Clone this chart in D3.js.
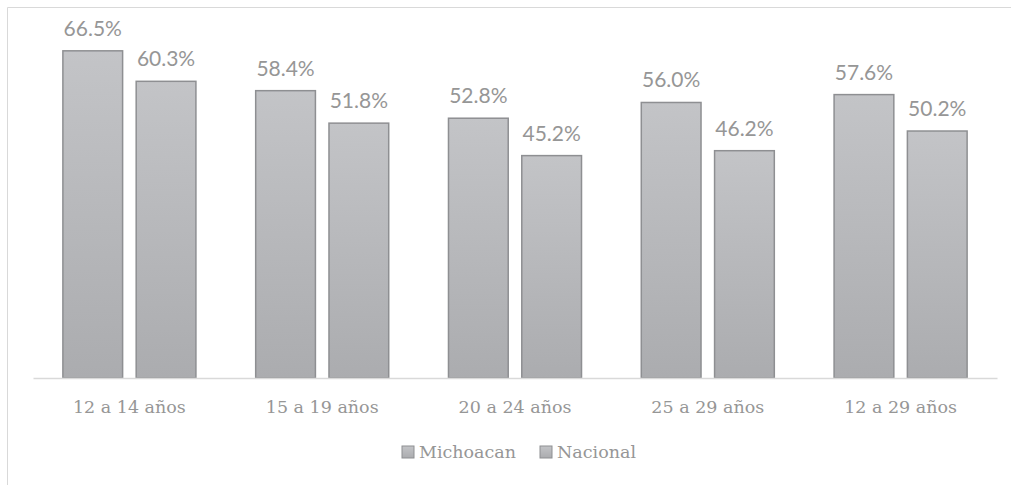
<!DOCTYPE html>
<meta charset="utf-8">
<style>
  body { margin: 0; background: #fff; }
</style>
<svg width="1011" height="485"></svg>
<script src="https://d3js.org/d3.v7.min.js"></script>
<script>

var categories = ["12 a 14 años", "15 a 19 años", "20 a 24 años", "25 a 29 años", "12 a 29 años"];
var series = ["Michoacan", "Nacional"];
var michoacan = [66.5, 58.4, 52.8, 56.0, 57.6];
var nacional = [60.3, 51.8, 45.2, 46.2, 50.2];

var rows = categories.map(function(c, i) {
  return {cat: c, values: [michoacan[i], nacional[i]]};
});

var svg = d3.select("svg");

// chart frame (only top and left edges are visible in the crop)
svg.append("path")
    .attr("d", "M7.5,485V7.5H1011")
    .attr("fill", "none")
    .attr("stroke", "#d9d9d9");

var defs = svg.append("defs");
var grad = defs.append("linearGradient")
    .attr("id", "barfill")
    .attr("x1", 0).attr("y1", 0).attr("x2", 0).attr("y2", 1);
grad.append("stop").attr("offset", "0%").attr("stop-color", "#c3c4c7");
grad.append("stop").attr("offset", "100%").attr("stop-color", "#abacaf");

var x0 = d3.scaleBand()
    .domain(categories)
    .range([33, 997]);

var x1 = d3.scaleBand()
    .domain(series)
    .range([x0.bandwidth() * 0.155, x0.bandwidth() * 0.845])
    .paddingInner(0.185);

var y = d3.scaleLinear()
    .domain([0, 70])
    .range([378, 33.6]);

var group = svg.append("g")
  .selectAll("g")
  .data(rows)
  .enter().append("g")
    .attr("transform", function(d) { return "translate(" + x0(d.cat) + ",0)"; });

var bar = group.selectAll("g")
  .data(function(d) { return d.values.map(function(v, i) { return {s: series[i], v: v}; }); })
  .enter().append("g");

bar.append("rect")
    .attr("x", function(d) { return x1(d.s); })
    .attr("y", function(d) { return y(d.v); })
    .attr("width", x1.bandwidth())
    .attr("height", function(d) { return y(0) - y(d.v); })
    .attr("fill", "url(#barfill)")
    .attr("stroke", "#8e8f92")
    .attr("stroke-width", 1.5);

bar.append("text")
    .attr("x", function(d) { return x1(d.s) + x1.bandwidth() / 2; })
    .attr("y", function(d) { return y(d.v) - 15; })
    .attr("text-anchor", "middle")
    .attr("font-family", "Lato, 'Noto Sans', sans-serif")
    .attr("font-size", 21)
    .attr("fill", "#969696")
    .text(function(d) { return d.v.toFixed(1) + "%"; });

// category axis
var axis = svg.append("g")
    .attr("transform", "translate(0," + y(0) + ")")
    .call(d3.axisBottom(x0).tickSize(0).tickPadding(23));

axis.select(".domain").attr("stroke", "#d9d9d9").attr("stroke-width", 1.5);
axis.selectAll("text")
    .attr("font-family", "'DejaVu Serif', serif")
    .attr("font-size", 17.5)
    .attr("fill", "#969696");

// legend
var legendX = [402, 540];
var legend = svg.append("g")
  .selectAll("g")
  .data(series)
  .enter().append("g")
    .attr("transform", function(d, i) { return "translate(" + legendX[i] + ",446)"; });

legend.append("rect")
    .attr("width", 12)
    .attr("height", 12)
    .attr("fill", "url(#barfill)")
    .attr("stroke", "#8e8f92");

legend.append("text")
    .attr("x", 17)
    .attr("y", 12)
    .attr("font-family", "'DejaVu Serif', serif")
    .attr("font-size", 17.5)
    .attr("fill", "#969696")
    .text(function(d) { return d; });

</script>
